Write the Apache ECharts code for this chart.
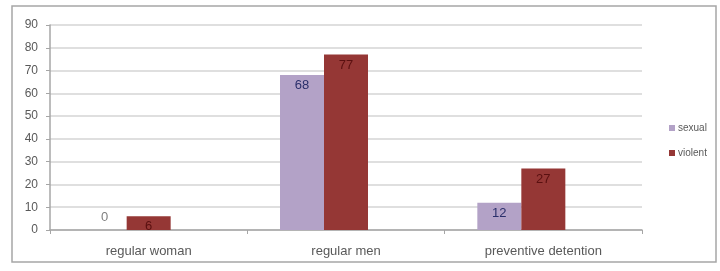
<!DOCTYPE html>
<html>
<head>
<meta charset="utf-8">
<script src="https://cdn.jsdelivr.net/npm/echarts@6/dist/echarts.min.js"></script>
<style>
  html, body { margin: 0; padding: 0; background: #fff; }
  #chart { width: 720px; height: 271px; }
</style>
</head>
<body>
<div id="chart"></div>
<script>
// categories and values
const categories = ['regular woman', 'regular men', 'preventive detention']
const sexual = [0, 68, 12]
const violent = [6, 77, 27]
// the original has an empty third slot in each group, so the pairs sit left of centre
const empty = ['-', '-', '-']

const chart = echarts.init(document.getElementById('chart'))

// a zero bar gets its label above, the others inside the top
const withLabels = (values, color) => values.map(v => ({
  value: v,
  label: v === 0
    ? { position: 'top', color: '#7f7f7f', distance: 6 }
    : { position: 'insideTop', color: color, distance: 4 }
}))

const option = {
  backgroundColor: '#fff',
  textStyle: { fontFamily: 'Liberation Sans, Arial, sans-serif' },
  graphic: [{
    type: 'rect',
    shape: { x: 12, y: 6, width: 704, height: 256 },
    style: { fill: 'none', stroke: '#a6a6a6', lineWidth: 1.5 },
    silent: true
  }],
  grid: { left: 50, right: 78, top: 25, bottom: 41 },
  legend: {
    orient: 'vertical',
    left: 664,
    top: 118,
    itemWidth: 6,
    itemHeight: 6,
    itemGap: 15,
    icon: 'rect',
    textStyle: { fontSize: 10, color: '#595959', padding: [0, 0, 0, -2] },
    data: ['sexual', 'violent']
  },
  xAxis: {
    type: 'category',
    data: categories,
    axisLine: { lineStyle: { color: '#a6a6a6', width: 1.5 } },
    axisTick: { show: true, length: 4, lineStyle: { color: '#a6a6a6' } },
    axisLabel: { color: '#595959', fontSize: 13, margin: 15 }
  },
  yAxis: {
    type: 'value',
    min: 0,
    max: 90,
    interval: 10,
    axisLine: { show: true, lineStyle: { color: '#a6a6a6', width: 1.5 } },
    axisTick: { show: true, length: 4, lineStyle: { color: '#a6a6a6' } },
    axisLabel: { color: '#595959', fontSize: 12, margin: 12 },
    splitLine: { lineStyle: { color: '#d4d4d4', width: 1.5 } }
  },
  series: [
    {
      name: 'sexual',
      type: 'bar',
      data: withLabels(sexual, '#2b2f6b'),
      itemStyle: { color: '#b3a2c7' },
      barWidth: 44,
      barGap: '0%',
      label: { show: true, fontSize: 13 }
    },
    {
      name: 'violent',
      type: 'bar',
      data: withLabels(violent, '#5a1010'),
      itemStyle: { color: '#953735' },
      barWidth: 44,
      barGap: '0%',
      label: { show: true, fontSize: 13 }
    },
    {
      name: 'blank',
      type: 'bar',
      data: empty,
      barWidth: 44,
      barGap: '0%',
      silent: true
    }
  ]
}

chart.setOption(option)
</script>
</body>
</html>
